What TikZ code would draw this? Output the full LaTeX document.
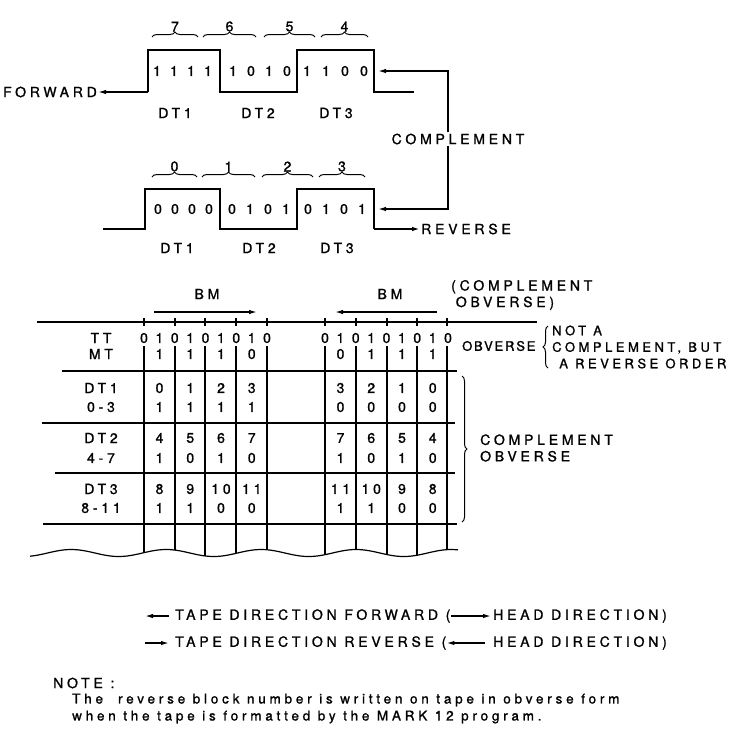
\documentclass[tikz,border=0pt]{standalone}
\usepackage{fontspec}
\setmainfont{TeX Gyre Heros}[LetterSpace=27, FakeBold=1.2]
\newfontfamily\notefont{TeX Gyre Heros}[LetterSpace=28, FakeBold=1.2]
\newfontfamily\tightfont{TeX Gyre Heros}[LetterSpace=14, FakeBold=1.2]
\usetikzlibrary{arrows.meta,positioning,decorations.pathreplacing}

\begin{document}
\begin{tikzpicture}[
  x=1pt, y=-1pt,
  every node/.style={font=\fontsize{14}{16.5}\selectfont, inner sep=1pt},
  side/.style={font=\fontsize{13}{16.5}\selectfont},
  wave/.style={line width=2pt},
  grid/.style={line width=1.2pt},
  rule/.style={line width=2.2pt},
  arrow/.style={-{Latex[length=8pt,width=4.5pt]}, line width=1.4pt},
  brc/.style={decorate, decoration={brace, amplitude=5pt}, line width=1pt},
  note/.style={font=\notefont\fontsize{13.5}{15}\selectfont, anchor=west}
]
\useasboundingbox (0,0) rectangle (743,732);

% forward track
\coordinate (fw0) at (148,92);
\node[anchor=east] (fwd) at (98,92) {FORWARD};
\draw[wave] (fw0) -- (148,50) -- (220,50) -- (220,92) -- (297,92) -- (297,50)
  -- (374,50) -- (374,92) -- (414,92);
\draw[arrow] (fw0) -- (fwd.east);
\foreach \x/\b [count=\i] in {157/1,174/1,191/1,208/1,233/1,251/0,269/1,287/0,307/1,326/1,345/0,364/0}
  \node (fb\i) at (\x,71) {\b};
\foreach \a/\b/\n in {152/198/7,203/256/6,264/315/5,321/368/4}
  \draw[brc] (\a,37) -- (\b,37) node[midway,above=4pt] (fn\n) {\n};
\foreach \x/\t in {175/DT1,258/DT2,336/DT3}
  \node (f\t) at (\x,113) {\t};

% reverse track
\coordinate (rv0) at (374,229);
\node[anchor=west] (rev) at (420,229) {REVERSE};
\draw[wave] (103,229) -- (145,229) -- (145,189) -- (220,189) -- (220,229) -- (297,229)
  -- (297,189) -- (374,189) -- (rv0);
\draw[arrow, wave] (rv0) -- (rev.west);
\foreach \x/\b [count=\i] in {158/0,175/0,192/0,209/0,232/0,250/1,268/0,286/1,308/0,326/1,344/0,362/1}
  \node (rb\i) at (\x,209) {\b};
\foreach \a/\b/\n in {152/197/0,202/255/1,262/313/2,319/365/3}
  \draw[brc] (\a,177) -- (\b,177) node[midway,above=4pt] (rn\n) {\n};
\foreach \x/\t in {177/DT1,259/DT2,337/DT3}
  \node (r\t) at (\x,248) {\t};

% complement link
\node (cmp) at (458,139) {COMPLEMENT};
\coordinate (cmpt) at (378,71);
\coordinate (cmpb) at (378,209);
\draw[arrow] ([xshift=-10pt]cmp.north) |- (cmpt);
\draw[arrow] ([xshift=-10pt]cmp.south) |- (cmpb);

% block mark table
\node (bml) at (207,294) {BM};
\node (bmr) at (390,294) {BM};
\draw[arrow] (154,312) -- (257,312);
\draw[arrow] (437,312) -- (335,312);
\node[anchor=west, align=left] (cobv) at (450,295) {(COMPLEMENT\\\phantom{(}OBVERSE)};
\draw[rule] (37,322) -- (537,322);
\foreach \x in {144,175,205,236,267,325,356,387,417,447} {
  \draw[grid] (\x,318) -- (\x,326);
  \draw[grid] (\x,346) -- (\x,{553+3.5*sin(\x*3.79)});
}
\draw[grid] plot[domain=30:458, samples=90, smooth] (\x,{553+3.5*sin(\x*3.79)});
\draw[grid] (62,371) -- (457,371);
\draw[grid] (42,423) -- (455,423);
\draw[grid] (55,473) -- (455,473);
\draw[grid] (43,524) -- (457,524);

\foreach \y/\t in {338/TT,354/MT,388/DT1,407/0-3,438/DT2,458/4-7,489/DT3,508/8-11}
  \node (lab\y) at (101,\y) {\t};
\foreach \s in {144,325} {
  \foreach \i in {0,...,4} \node (tt\s-\i) at (\s+30.75*\i,338) {0};
  \foreach \i in {0,...,3} \node (tu\s-\i) at (\s+15.4+30.75*\i,338) {1};
}
\foreach \y/\lft/\rgt in {354/{1,1,1,0}/{0,1,1,1}, 388/{0,1,2,3}/{3,2,1,0},
    407/{1,1,1,1}/{0,0,0,0}, 438/{4,5,6,7}/{7,6,5,4}, 458/{1,0,1,0}/{1,0,1,0},
    489/{8,9,10,11}/{11,10,9,8}, 508/{1,1,0,0}/{1,1,0,0}} {
  \foreach \v [count=\i from 0] in \lft \node (cl\y-\i) at (159.5+30.75*\i,\y) {\v};
  \foreach \v [count=\i from 0] in \rgt \node (cr\y-\i) at (340.5+30.75*\i,\y) {\v};
}

% side notes
\node[side, font=\tightfont\fontsize{13}{16.5}\selectfont, anchor=west] (obv) at (461,346) {OBVERSE};
\draw[brc] (548,368) -- (548,326);
\node[side, anchor=west, align=left] (nac) at (551,347) {NOT A\\COMPLEMENT, BUT\\\ A REVERSE ORDER};
\draw[brc] (462,376) -- (462,522);
\node[anchor=west, align=left] (cobv2) at (479,448) {COMPLEMENT\\OBVERSE};

% direction legend
\node[anchor=east] (hfw) at (668,616) {HEAD DIRECTION)};
\node[anchor=west] (tfw) at (174,616) {TAPE DIRECTION FORWARD (};
\draw[arrow] ([xshift=-5pt]tfw.west) -- ++(-24,0);
\draw[arrow] ([xshift=-1pt]tfw.east) -- ([xshift=-1pt]hfw.west);
\node[anchor=east] (hrv) at (668,643) {HEAD DIRECTION)};
\node[anchor=west] (trv) at (174,643) {TAPE DIRECTION REVERSE (};
\draw[arrow] ([xshift=-29pt]trv.west) -- ([xshift=-5pt]trv.west);
\draw[arrow] ([xshift=-7pt]hrv.west) -- ([xshift=-1pt]trv.east);

% note
\node[anchor=west] (nt) at (52,683) {NOTE :};
\node[note] (nt1) at (71,700) {The\ \ reverse block number is written on tape in obverse form};
\node[note] (nt2) at (71,717) {when the tape is formatted by the MARK 12 program.};
\end{tikzpicture}
\end{document}
